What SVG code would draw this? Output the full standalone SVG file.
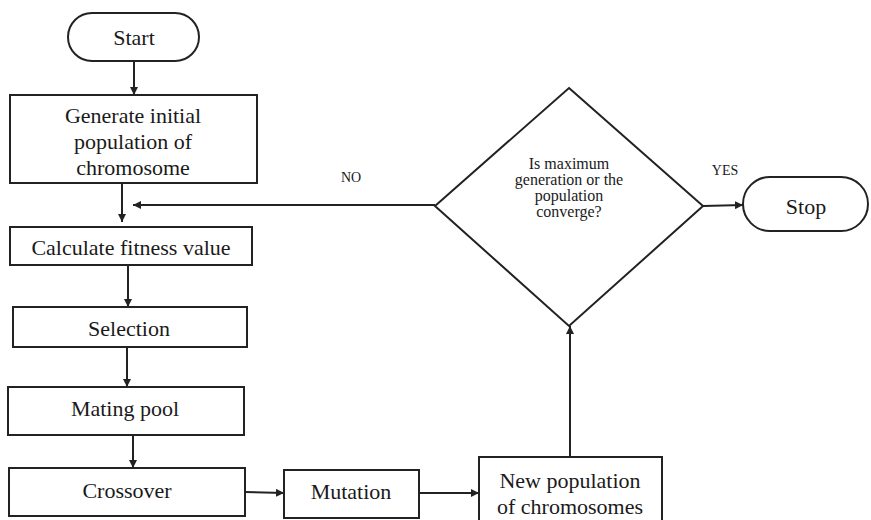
<svg xmlns="http://www.w3.org/2000/svg" width="871" height="520" viewBox="0 0 871 520">
<style>
.box{fill:#fff;stroke:#222;stroke-width:2}
.t{font-family:"Liberation Serif","Times New Roman",serif;font-size:22px;fill:#1a1a1a;text-anchor:middle;dominant-baseline:central}
.d{font-family:"Liberation Serif","Times New Roman",serif;font-size:16px;fill:#1a1a1a;text-anchor:middle;dominant-baseline:central}
.s{font-family:"Liberation Serif","Times New Roman",serif;font-size:14px;fill:#1a1a1a;text-anchor:middle;dominant-baseline:central}
.c{fill:none;stroke:#222;stroke-width:2}
</style>
<defs>
<marker id="ah" viewBox="0 0 10 10" refX="10" refY="5" markerWidth="8" markerHeight="8" markerUnits="userSpaceOnUse" orient="auto">
<path d="M0,0 L10,5 L0,10 z" fill="#222"/>
</marker>
</defs>
<rect width="871" height="520" fill="#fff"/>
<g id="connectors">
<line class="c" x1="134" y1="61" x2="134" y2="95" marker-end="url(#ah)"/>
<line class="c" x1="122" y1="183" x2="122" y2="222" marker-end="url(#ah)"/>
<line class="c" x1="435" y1="205" x2="133" y2="205" marker-end="url(#ah)"/>
<line class="c" x1="128" y1="265" x2="128" y2="307" marker-end="url(#ah)"/>
<line class="c" x1="127" y1="347" x2="127" y2="387" marker-end="url(#ah)"/>
<line class="c" x1="133" y1="435" x2="133" y2="468" marker-end="url(#ah)"/>
<line class="c" x1="245" y1="492" x2="284" y2="493" marker-end="url(#ah)"/>
<line class="c" x1="419" y1="493" x2="479" y2="493" marker-end="url(#ah)"/>
<line class="c" x1="570" y1="457" x2="570" y2="326" marker-end="url(#ah)"/>
<line class="c" x1="703" y1="206" x2="743" y2="205" marker-end="url(#ah)"/>
<text class="s" x="351" y="177">NO</text>
<text class="s" x="725" y="170">YES</text>
</g>
<g id="start">
<rect class="box" x="68" y="13" width="131" height="48" rx="24"/>
<text class="t" x="134" y="37">Start</text>
</g>
<g id="generate">
<rect class="box" x="10" y="95" width="247" height="88"/>
<text class="t" x="133" y="115">Generate initial</text>
<text class="t" x="133" y="141">population of</text>
<text class="t" x="133" y="167">chromosome</text>
</g>
<g id="fitness">
<rect class="box" x="10" y="227" width="242" height="38"/>
<text class="t" x="131" y="247">Calculate fitness value</text>
</g>
<g id="selection">
<rect class="box" x="13" y="307" width="234" height="40"/>
<text class="t" x="129" y="328">Selection</text>
</g>
<g id="mating">
<rect class="box" x="8" y="387" width="236" height="48"/>
<text class="t" x="125" y="408">Mating pool</text>
</g>
<g id="crossover">
<rect class="box" x="9" y="468" width="236" height="48"/>
<text class="t" x="127" y="490">Crossover</text>
</g>
<g id="mutation">
<rect class="box" x="284" y="470" width="135" height="48"/>
<text class="t" x="351" y="491">Mutation</text>
</g>
<g id="newpop">
<rect class="box" x="479" y="457" width="183" height="70"/>
<text class="t" x="570" y="480">New population</text>
<text class="t" x="570" y="506">of chromosomes</text>
</g>
<g id="decision">
<polygon class="box" points="569,88 703,206 569,326 435,206"/>
<text class="d" x="569" y="163">Is maximum</text>
<text class="d" x="569" y="179">generation or the</text>
<text class="d" x="569" y="195">population</text>
<text class="d" x="569" y="211">converge?</text>
</g>
<g id="stop">
<rect class="box" x="743" y="177" width="125" height="54" rx="27"/>
<text class="t" x="806" y="206">Stop</text>
</g>
</svg>
